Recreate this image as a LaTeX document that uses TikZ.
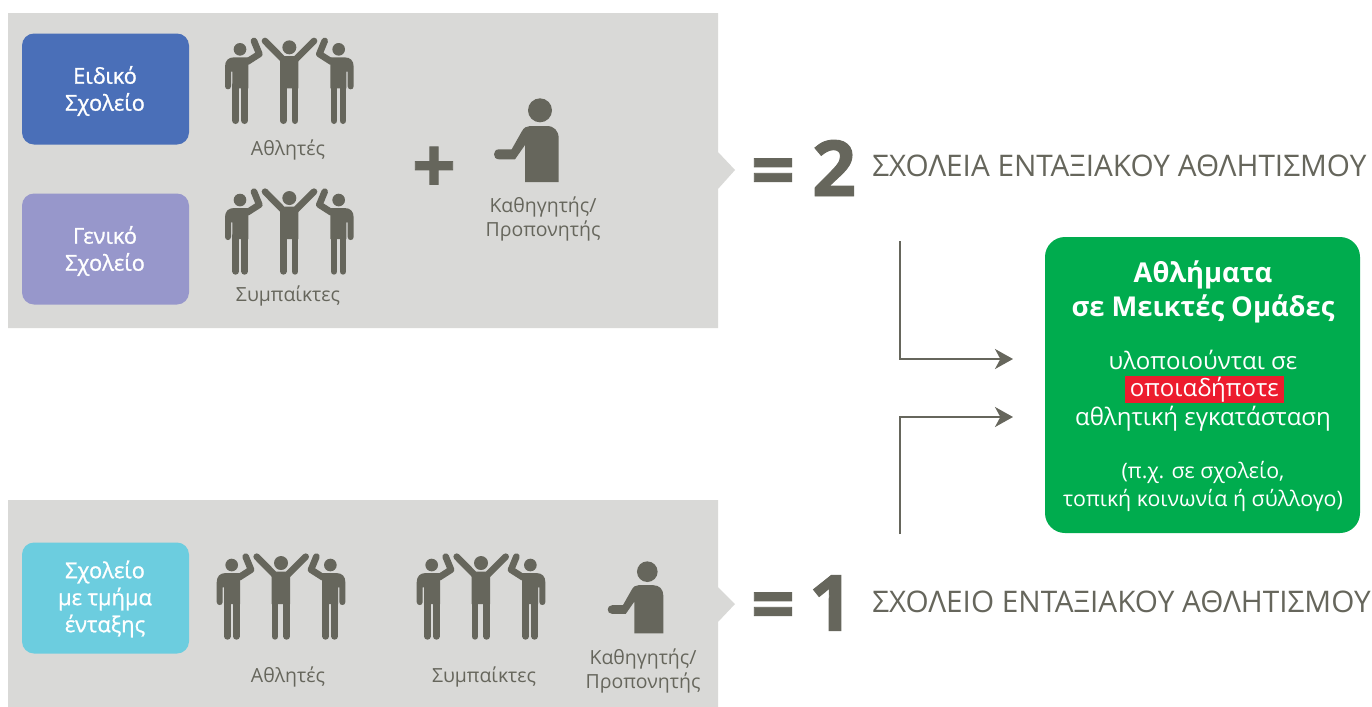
\documentclass[tikz,border=0pt]{standalone}
\usepackage{fontspec}
\setmainfont{Open Sans}
\newfontfamily\medfont[FakeBold=1]{Open Sans}
\newfontfamily\heavyfont[FakeBold=1.2]{Open Sans Bold}
\usetikzlibrary{arrows.meta}
\definecolor{ink}{HTML}{66665C}
\definecolor{panel}{HTML}{D9D9D7}
\definecolor{blueb}{HTML}{4A6FB8}
\definecolor{lilac}{HTML}{9797CB}
\definecolor{cyanb}{HTML}{6CCDDF}
\definecolor{greenb}{HTML}{00AC4E}
\definecolor{redb}{HTML}{ED1C2E}
\tikzset{x=0.75pt,y=-0.75pt,
 schoolbox/.style={rounded corners=9pt,text=white,align=center,font=\medfont\fontsize{16.4}{20.25}\selectfont,inner sep=0pt,minimum width=125.25pt,minimum height=83.25pt},
 capt/.style={text=ink,align=center,font=\fontsize{14.6}{18.5}\selectfont,inner sep=0pt},
 bigtext/.style={text=ink,anchor=west,font=\fontsize{22.3}{26}\selectfont,inner sep=0pt},
 bignum/.style={text=ink,font=\heavyfont\fontsize{58}{60}\selectfont,inner sep=0pt},
 flow/.style={draw=ink,line width=1.5pt,-{Stealth[length=13.5pt,width=15pt,inset=4pt]}},
 limb/.style={draw=ink,line width=5pt,line cap=round,line join=round}
}
% icons drawn in units of 1/3 px, origin at shift
\newcommand{\sideman}{%
 \fill[ink] (90,88) circle (19);
 \fill[ink] (63,199) -- (63,155) -- (67,155) -- (67,205) -- (115,205) -- (115,112) -- (72,112)
   .. controls (55,112) and (45,122) .. (45,140) -- (45,199)
   .. controls (45,211) and (63,211) .. (63,199) -- cycle;
 \draw[limb] (77,195) -- (77,302);
 \draw[limb] (104,195) -- (104,302);
 \draw[limb] (112,125) -- (148,102) -- (132,63);
}
\newcommand{\trio}[2]{%
\begin{scope}[shift={(#1,#2)},x=0.25pt,y=-0.25pt]
 \sideman
 \begin{scope}[xscale=-1,shift={(-476,0)}]\sideman\end{scope}
 \fill[ink] (238,82) circle (21);
 \draw[limb] (225,124) -- (165,63);
 \draw[limb] (251,124) -- (312,63);
 \fill[ink] (210,122) -- (224,108) -- (252,108) -- (265,122) -- (265,205) -- (210,205) -- cycle;
 \draw[limb] (220,195) -- (220,302);
 \draw[limb] (255,195) -- (255,302);
\end{scope}}
\newcommand{\coach}[3]{%
\begin{scope}[shift={(#1,#2)},x=#3*0.25pt,y=-#3*0.25pt]
 \fill[ink] (180,61) circle (36);
 \fill[ink] (135,276) -- (135,165) -- (105,208) -- (57,208)
   .. controls (37,208) and (37,178) .. (57,178) -- (95,178) -- (125,125)
   .. controls (131,113) and (140,108) .. (150,108) -- (200,108)
   .. controls (222,108) and (236,122) .. (236,145) -- (236,276) -- cycle;
\end{scope}}
\begin{document}
\begin{tikzpicture}
\useasboundingbox (0,0) rectangle (1372,707);
\fill[white] (0,0) rectangle (1372,707);
\fill[panel] (8,13) -- (718,13) -- (718,152) -- (735,170) -- (718,189) -- (718,328) -- (8,328) -- cycle;
\fill[panel] (8,500) -- (718,500) -- (718,587) -- (735,604) -- (718,622) -- (718,707) -- (8,707) -- cycle;
\node[schoolbox,fill=blueb] (eidiko) at (105.5,89) {};
\node[schoolbox,fill=lilac] (geniko) at (105.5,249) {};
\node[schoolbox,fill=cyanb] (entaxi) at (105.5,598) {};
\node[schoolbox,minimum width=0pt,minimum height=0pt] (eidikot) at (105,91) {Ειδικό\\Σχολείο};
\node[schoolbox,minimum width=0pt,minimum height=0pt] (genikot) at (105,251) {Γενικό\\Σχολείο};
\node[schoolbox,minimum width=0pt,minimum height=0pt] (entaxit) at (105,599) {Σχολείο\\με τμήμα\\ένταξης};
\trio{210}{20}
\trio{210}{170.7}
\trio{201.7}{535.7}
\trio{401.7}{535.7}
\coach{480}{90}{1}
\coach{595.7}{554.2}{0.86}
\node[capt] (a1) at (288,150) {Αθλητές};
\node[capt] (s1) at (288,296) {Συμπαίκτες};
\node[capt] (k1) at (543,219) {Καθηγητής/\\Προπονητής};
\node[capt] (a2) at (288,677) {Αθλητές};
\node[capt] (s2) at (484,677) {Συμπαίκτες};
\node[capt] (k2) at (643,671) {Καθηγητής/\\Προπονητής};
\node[bignum] (plus) at (434,170) {+};
\node[bignum] (eq2) at (773,178) {=};
\node[bignum] (n2) at (834,168) {2};
\node[bignum] (eq1) at (773,612) {=};
\node[bignum] (n1) at (831,603) {1};
\node[bigtext] (t2) at (872,166) {ΣΧΟΛΕΙΑ ΕΝΤΑΞΙΑΚΟΥ ΑΘΛΗΤΙΣΜΟΥ};
\node[bigtext] (t1) at (872,602) {ΣΧΟΛΕΙΟ ΕΝΤΑΞΙΑΚΟΥ ΑΘΛΗΤΙΣΜΟΥ};
\node[rounded corners=15pt,fill=greenb,minimum width=236.25pt,minimum height=222pt,inner sep=0pt] (green) at (1202.5,385) {};
\coordinate (in1) at (1013,359);
\coordinate (in2) at (1013,417);
\coordinate (s1a) at (900.3,241);
\coordinate (s2a) at (900.3,534);
\draw[flow] (s1a) |- (in1);
\draw[flow] (s2a) |- (in2);
\node[text=white,align=center,font=\fontsize{20.5}{26}\selectfont\bfseries,inner sep=0pt] (g1) at (1203,292) {Αθλήματα\\σε Μεικτές Ομάδες};
\node[text=white,font=\fontsize{18}{22}\selectfont,inner sep=0pt] (g2) at (1203,360) {υλοποιούνται σε};
\node[fill=redb,text=white,font=\fontsize{18}{22}\selectfont,inner sep=0pt,minimum width=119pt,minimum height=20pt] (g3) at (1204.3,389.5) {οποιαδήποτε};
\node[text=white,font=\fontsize{18}{22}\selectfont,inner sep=0pt] (g4) at (1203,419) {αθλητική εγκατάσταση};
\node[text=white,align=center,font=\fontsize{16}{21}\selectfont,inner sep=0pt] (g5) at (1203,486) {(π.χ. σε σχολείο,\\τοπική κοινωνία ή σύλλογο)};
\end{tikzpicture}
\end{document}
